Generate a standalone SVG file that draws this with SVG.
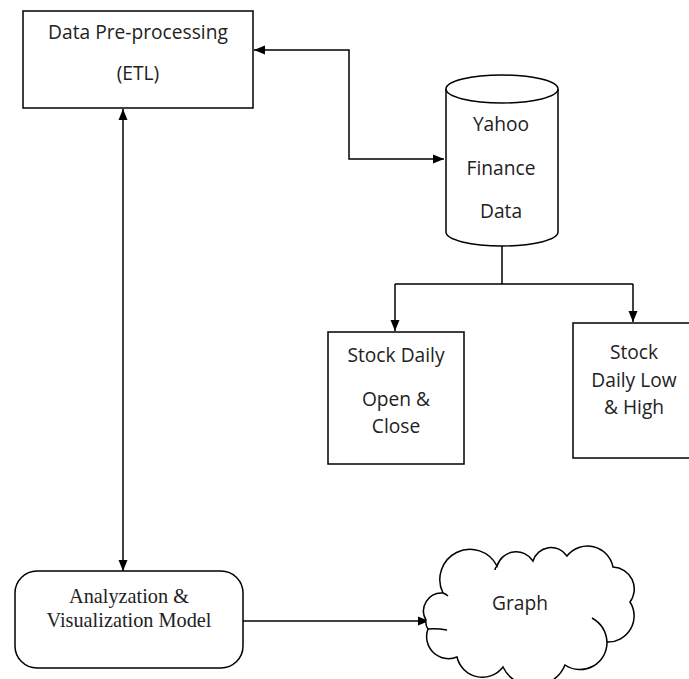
<svg xmlns="http://www.w3.org/2000/svg" width="689" height="679" viewBox="0 0 689 679">
<style>
.shape{fill:#fff;stroke:#000;stroke-width:1.5}
.line{fill:none;stroke:#000;stroke-width:1.5}
.sans{font-family:"Open Sans","Liberation Sans",sans-serif;font-size:19.2px;fill:#222;text-anchor:middle}
.serif{font-family:"Liberation Serif","Times New Roman",serif;font-size:20.3px;fill:#222;text-anchor:middle}
</style>
<defs>
<marker id="ah" markerUnits="userSpaceOnUse" markerWidth="12" markerHeight="10" refX="11" refY="5" orient="auto-start-reverse" viewBox="0 0 12 10">
<path d="M0,0.5 L11,5 L0,9.5 z" fill="#000"/>
</marker>
</defs>
<rect width="689" height="679" fill="#fff"/>
<g id="connectors">
<path class="line" d="M254,50 H349 V159 H444" marker-start="url(#ah)" marker-end="url(#ah)"/>
<path class="line" d="M123,109 V571" marker-start="url(#ah)" marker-end="url(#ah)"/>
<path class="line" d="M243,621 H429" marker-end="url(#ah)"/>
<path class="line" d="M502,246 V284 M395,284 H633"/>
<path class="line" d="M395,284 V331" marker-end="url(#ah)"/>
<path class="line" d="M633,284 V322" marker-end="url(#ah)"/>
</g>
<g id="data-preprocessing">
<rect class="shape" x="23" y="11" width="230" height="97"/>
<text class="sans" x="138" y="39">Data Pre-processing</text>
<text class="sans" x="138" y="80">(ETL)</text>
</g>
<g id="yahoo-finance-data">
<path class="shape" d="M446,89 V232 A56,14 0 0 0 558,232 V89"/>
<ellipse class="shape" cx="502" cy="89" rx="56" ry="14"/>
<text class="sans" x="501" y="131">Yahoo</text>
<text class="sans" x="501" y="175">Finance</text>
<text class="sans" x="501" y="218">Data</text>
</g>
<g id="open-close">
<rect class="shape" x="328" y="332" width="136" height="132"/>
<text class="sans" x="396" y="362">Stock Daily</text>
<text class="sans" x="396" y="406">Open &amp;</text>
<text class="sans" x="396" y="433">Close</text>
</g>
<g id="low-high">
<rect class="shape" x="573" y="323" width="130" height="135"/>
<text class="sans" x="634" y="359">Stock</text>
<text class="sans" x="634" y="387">Daily Low</text>
<text class="sans" x="634" y="414">&amp; High</text>
</g>
<g id="analyzation">
<rect class="shape" x="15" y="571" width="228" height="97" rx="22" ry="22"/>
<text class="serif" x="129" y="603">Analyzation &amp;</text>
<text class="serif" x="129" y="627">Visualization Model</text>
</g>
<g id="graph">
<path class="shape" d="M426,620 A18,18 0 0 1 443,593 A30,30 0 0 1 497,566 A20,20 0 0 1 533,561 A19,19 0 0 1 567,556 A26,26 0 0 1 613,567 A22,22 0 0 1 630,602 A26,26 0 0 1 607,642 A27,27 0 0 1 565,665 A34,34 0 0 1 503,667 A26,26 0 0 1 457,657 A22,22 0 0 1 428,629 A12,12 0 0 1 426,620 z"/>
<path class="line" d="M428,629 Q436,628 447,630"/>
<path class="line" d="M592,618 Q606,626 607,642"/>
<path class="line" d="M443,593 Q446,594 448,596"/>
<path class="line" d="M497,566 Q495,568 495,570"/>
<text class="sans" x="520" y="610">Graph</text>
</g>
</svg>
